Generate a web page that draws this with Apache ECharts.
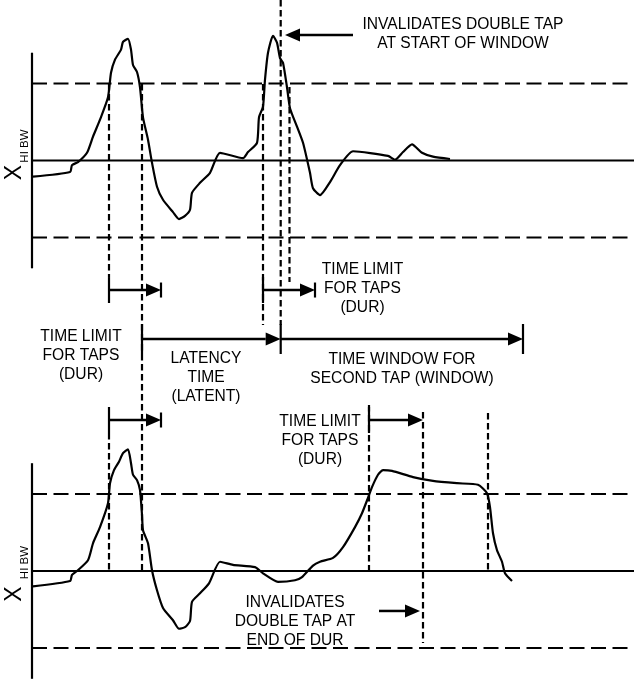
<!DOCTYPE html>
<html>
<head>
<meta charset="utf-8">
<script src="https://cdn.jsdelivr.net/npm/echarts@6/dist/echarts.min.js"></script>
<style>
  html, body { margin: 0; padding: 0; background: #fff; }
  #chart { width: 634px; height: 679px; }
</style>
</head>
<body>
<div id="chart"></div>
<script>
// ---- Data (time on x, acceleration in threshold units on y) ----
const topTime   = [33,70,72,78,87,93,100,108,111,115,121,123,128,131,133,137,140,143,148,152,157,163,173,179,185,190,192,200,210,220,243,248,257,259,263,265,268,273,277,280,283,287,290,297,303,310,313,320,330,340,353,388,395,403,412,422,433,450];
const topSignal = [-0.21,-0.15,-0.06,-0.02,0.10,0.31,0.53,0.82,1.14,1.31,1.44,1.54,1.58,1.44,1.24,1.15,0.95,0.56,0.27,-0.03,-0.34,-0.51,-0.67,-0.76,-0.72,-0.64,-0.42,-0.29,-0.16,0.10,0.03,0.11,0.23,0.56,0.70,1.05,1.40,1.62,1.53,1.33,1.27,0.95,0.68,0.44,0.23,-0.16,-0.36,-0.45,-0.28,-0.06,0.12,0.06,0.01,0.11,0.21,0.10,0.05,0.02];

const botTime   = [33,70,72,77,88,93,100,108,110,114,119,123,128,131,133,137,140,142,143,148,152,157,163,173,179,185,190,192,200,209,220,233,255,263,278,295,302,313,320,333,343,355,362,368,372,378,383,392,413,433,457,478,487,490,493,497,502,505,512];
const botSignal = [-0.20,-0.13,-0.05,0.00,0.14,0.36,0.57,0.88,1.14,1.31,1.42,1.53,1.58,1.40,1.25,1.18,1.05,0.73,0.53,0.36,0.01,-0.25,-0.48,-0.64,-0.75,-0.73,-0.65,-0.40,-0.29,-0.16,0.12,0.08,0.05,-0.03,-0.14,-0.12,-0.08,0.07,0.12,0.17,0.31,0.57,0.75,0.95,1.09,1.25,1.31,1.30,1.22,1.17,1.14,1.12,1.01,0.83,0.49,0.27,0.12,-0.03,-0.13];

const thresholdLevels = [1, -1];          // ±threshold (THRESH_TAP)
const axisExtent = 1.40;                  // half-length of each panel's vertical axis
const timeStart = 32, timeEnd = 634;      // panel time range

// Dashed timing guides: [time, yFrom, yTo]
const timeMarkers = [
  [109, 6.325, 3.818], [109, 1.792, 0], [142, 6.325, 0],
  [263, 6.325, 3.195], [280.7, 7.4156, 3.195], [289.5, 6.286, 3.753],
  [369, 2.156, 0], [423, 2.065, -0.935], [488, 2.052, 0]
];
// Interval arrows: [timeFrom, timeTo, y, startBar, endBar]  (bar code: 0 none, 1 short, 2 medium, 3 tall)
const spans = [
  [109, 161, 3.649, 2, 1], [263, 315, 3.649, 2, 1],
  [142, 280.7, 3.013, 3, 0], [280.7, 523, 3.013, 3, 3],
  [109, 161, 1.961, 2, 1], [369, 423, 1.961, 2, 0],
  [353, 285, 6.961, 0, 0], [379, 420, -0.519, 0, 0]
];
const noteTexts = [
  'INVALIDATES DOUBLE TAP\nAT START OF WINDOW',
  'TIME LIMIT\nFOR TAPS\n(DUR)',
  'TIME LIMIT\nFOR TAPS\n(DUR)',
  'LATENCY\nTIME\n(LATENT)',
  'TIME WINDOW FOR\nSECOND TAP (WINDOW)',
  'TIME LIMIT\nFOR TAPS\n(DUR)',
  'INVALIDATES\nDOUBLE TAP AT\nEND OF DUR'
];
const axisLabelMain = 'X', axisLabelSub = 'HI BW';

// ---- Layout ----
const panelOffsets = [5.331, 0];          // baseline of upper / lower panel
const notePos = [[463,6.971],[362.5,3.666],[81,2.792],[206,2.510],[402,2.623],[320,1.688],[295,-0.662]];

const FONT = '"Liberation Sans", Arial, Helvetica, sans-serif';
const series = [];

panelOffsets.forEach(function (off) {
  series.push({ type: 'line', data: [[timeStart, off], [timeEnd, off]], symbol: 'none', silent: true,
    lineStyle: { color: '#000', width: 2 } });
  thresholdLevels.forEach(function (t) {
    series.push({ type: 'line', data: [[timeStart, off + t], [timeEnd, off + t]], symbol: 'none', silent: true,
      lineStyle: { color: '#000', width: 2, type: [15, 6.5] } });
  });
  series.push({ type: 'line', data: [[timeStart, off + axisExtent], [timeStart, off - axisExtent]], symbol: 'none', silent: true,
    lineStyle: { color: '#000', width: 2.2 } });
});

series.push({ type: 'line', data: topTime.map(function (t, i) { return [t, panelOffsets[0] + topSignal[i]]; }),
  symbol: 'none', smooth: 0.2, lineStyle: { color: '#000', width: 2.2 } });
series.push({ type: 'line', data: botTime.map(function (t, i) { return [t, panelOffsets[1] + botSignal[i]]; }),
  symbol: 'none', smooth: 0.2, lineStyle: { color: '#000', width: 2.2 } });

series.push({
  type: 'custom', data: timeMarkers, clip: false, silent: true,
  renderItem: function (params, api) {
    const a = api.coord([api.value(0), api.value(1)]);
    const b = api.coord([api.value(0), api.value(2)]);
    return { type: 'line', shape: { x1: a[0], y1: a[1], x2: b[0], y2: b[1] },
      style: { stroke: '#000', lineWidth: 2.2, lineDash: [6.5, 3.5] } };
  }
});

const barHalf = [0, 7.5, 13, 15];
series.push({
  type: 'custom', data: spans, clip: false, silent: true, z: 5,
  renderItem: function (params, api) {
    const y = api.value(2);
    const a = api.coord([api.value(0), y]);
    const b = api.coord([api.value(1), y]);
    const dir = b[0] > a[0] ? 1 : -1;
    const HEAD = 15, HALF = 6.5;
    const children = [
      { type: 'line', shape: { x1: a[0], y1: a[1], x2: b[0] - dir * HEAD, y2: b[1] }, style: { stroke: '#000', lineWidth: 2.5 } },
      { type: 'polygon', shape: { points: [[b[0], b[1]], [b[0] - dir * HEAD, b[1] - HALF], [b[0] - dir * HEAD, b[1] + HALF]] }, style: { fill: '#000' } }
    ];
    const s = barHalf[api.value(3)], e = barHalf[api.value(4)];
    if (s) children.push({ type: 'line', shape: { x1: a[0], y1: a[1] - s, x2: a[0], y2: a[1] + s }, style: { stroke: '#000', lineWidth: 2.2 } });
    if (e) children.push({ type: 'line', shape: { x1: b[0], y1: b[1] - e, x2: b[0], y2: b[1] + e }, style: { stroke: '#000', lineWidth: 2.2 } });
    return { type: 'group', children: children };
  }
});

series.push({
  type: 'custom', data: notePos, clip: false, silent: true, z: 6,
  renderItem: function (params, api) {
    const p = api.coord([api.value(0), api.value(1)]);
    return { type: 'text', x: p[0], y: p[1],
      style: { text: noteTexts[params.dataIndex], fill: '#000', font: '15.6px ' + FONT,
        align: 'center', verticalAlign: 'middle', lineHeight: 19 } };
  }
});

// Rotated axis titles "X" with subscript "HI BW" for each panel
const axisTitlePos = [[15, 5.175, 24.5, 5.519], [15, -0.299, 24.5, 0.110]];
series.push({
  type: 'custom', data: axisTitlePos, clip: false, silent: true, z: 6,
  renderItem: function (params, api) {
    const pm = api.coord([api.value(0), api.value(1)]);
    const ps = api.coord([api.value(2), api.value(3)]);
    return { type: 'group', children: [
      { type: 'text', x: pm[0], y: pm[1], rotation: Math.PI / 2,
        style: { text: axisLabelMain, fill: '#000', font: '23px ' + FONT, align: 'center', verticalAlign: 'middle' } },
      { type: 'text', x: ps[0], y: ps[1], rotation: Math.PI / 2,
        style: { text: axisLabelSub, fill: '#000', font: '11.5px ' + FONT, align: 'center', verticalAlign: 'middle' } }
    ] };
  }
});

const chart = echarts.init(document.getElementById('chart'), null, { renderer: 'canvas' });
chart.setOption({
  animation: false,
  backgroundColor: '#fff',
  grid: { left: 0, right: 0, top: 0, bottom: 0 },
  xAxis: { type: 'value', min: 0, max: 634, show: false },
  yAxis: { type: 'value', min: -1.4026, max: 7.4156, show: false },
  series: series
});
</script>
</body>
</html>
